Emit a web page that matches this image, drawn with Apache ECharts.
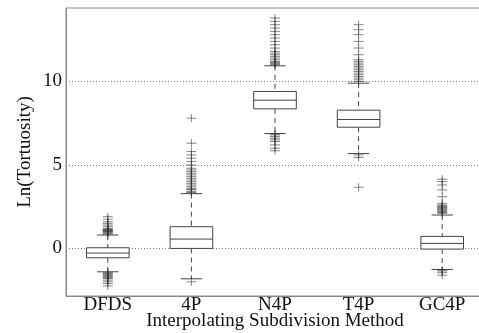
<!DOCTYPE html>
<html>
<head>
<meta charset="utf-8">
<script src="https://cdn.jsdelivr.net/npm/echarts@6/dist/echarts.min.js"></script>
<style>
  html, body { margin: 0; padding: 0; background: #fff; }
  #chart { width: 479px; height: 333px; }
</style>
</head>
<body>
<div id="chart"></div>
<script>
var methods = ['DFDS', '4P', 'N4P', 'T4P', 'GC4P'];

// [lower whisker, q1, median, q3, upper whisker]
var boxStats = [
    [-1.4, -0.56, -0.28, 0.04, 0.8],
    [-1.82, 0, 0.56, 1.3, 3.28],
    [6.88, 8.36, 8.88, 9.4, 10.94],
    [5.68, 7.26, 7.72, 8.28, 9.9],
    [-1.26, -0.04, 0.3, 0.72, 2.0]
];

var outliersDFDS = [0.85, 0.9, 0.95, 1.0, 1.02, 1.05, 1.08, 1.1, 1.12, 1.15, 1.2, 1.3, 1.4, 1.5, 1.6, 1.75, 1.9,
    -1.45, -1.5, -1.55, -1.6, -1.65, -1.7, -1.75, -1.8, -1.9, -2.0, -2.1, -2.25];
var outliers4P = [3.35, 3.4, 3.5, 3.55, 3.6, 3.7, 3.8, 3.9, 4.0, 4.1, 4.2, 4.3, 4.4, 4.5, 4.6, 4.7, 4.8, 5.0, 5.2, 5.4, 5.6, 5.8, 6.3, 7.8,
    -2.0];
var outliersN4P = [11.0, 11.05, 11.1, 11.15, 11.2, 11.3, 11.4, 11.5, 11.6, 11.7, 11.8, 12.0, 12.2, 12.4, 12.6, 12.8, 13.0, 13.2, 13.4, 13.6, 13.8,
    6.85, 6.8, 6.7, 6.6, 6.5, 6.4, 6.2, 6.0, 5.85];
var outliersT4P = [10.0, 10.1, 10.2, 10.3, 10.4, 10.5, 10.6, 10.7, 10.8, 10.9, 11.0, 11.1, 11.2, 11.3, 11.6, 12.0, 12.4, 12.8, 13.1, 13.4,
    5.6, 5.45, 3.66];
var outliersGC4P = [2.1, 2.15, 2.2, 2.25, 2.3, 2.35, 2.4, 2.45, 2.5, 2.55, 2.6, 2.7, 3.1, 3.5, 3.8, 4.0, 4.15,
    -1.3, -1.35, -1.45, -1.6];

var outlierLists = [outliersDFDS, outliers4P, outliersN4P, outliersT4P, outliersGC4P];
var outlierData = [];
outlierLists.forEach(function (list, i) {
    list.forEach(function (v) {
        outlierData.push([i, v]);
    });
});

var boxData = boxStats.map(function (s, i) {
    return [i].concat(s);
});

var lineColor = '#444';
var textColor = '#111';
var font = 'Liberation Serif';

var myChart = echarts.init(document.getElementById('chart'));

function renderBox(params, api) {
    var x = api.value(0);
    var pLow = api.coord([x, api.value(1)]);
    var pQ1 = api.coord([x, api.value(2)]);
    var pMed = api.coord([x, api.value(3)]);
    var pQ3 = api.coord([x, api.value(4)]);
    var pHigh = api.coord([x, api.value(5)]);
    var bw = api.size([1, 0])[0] * 0.51;
    var cw = bw * 0.5;
    var cx = pMed[0];
    var solid = { stroke: lineColor, lineWidth: 1, fill: null };
    var dashed = { stroke: lineColor, lineWidth: 1, lineDash: [5, 4], fill: null };
    return {
        type: 'group',
        children: [
            { type: 'line', shape: { x1: cx, y1: pHigh[1], x2: cx, y2: pQ3[1] }, style: dashed },
            { type: 'line', shape: { x1: cx, y1: pQ1[1], x2: cx, y2: pLow[1] }, style: dashed },
            { type: 'line', shape: { x1: cx - cw / 2, y1: pHigh[1], x2: cx + cw / 2, y2: pHigh[1] }, style: solid },
            { type: 'line', shape: { x1: cx - cw / 2, y1: pLow[1], x2: cx + cw / 2, y2: pLow[1] }, style: solid },
            { type: 'rect', shape: { x: cx - bw / 2, y: pQ3[1], width: bw, height: pQ1[1] - pQ3[1] },
              style: { stroke: lineColor, lineWidth: 1, fill: '#fff' } },
            { type: 'line', shape: { x1: cx - bw / 2, y1: pMed[1], x2: cx + bw / 2, y2: pMed[1] }, style: solid }
        ]
    };
}

function renderPlus(params, api) {
    var p = api.coord([api.value(0), api.value(1)]);
    var st = { stroke: '#333', lineWidth: 1, opacity: 0.6 };
    return {
        type: 'group',
        children: [
            { type: 'line', shape: { x1: p[0] - 5, y1: p[1], x2: p[0] + 5, y2: p[1] }, style: st },
            { type: 'line', shape: { x1: p[0], y1: p[1] - 4, x2: p[0], y2: p[1] + 4 }, style: st }
        ]
    };
}

var option = {
    backgroundColor: '#fff',
    animation: false,
    grid: {
        left: 66,
        top: 8,
        right: -5,
        bottom: 37,
        outerBoundsMode: 'none',
        containLabel: false,
        show: true,
        borderColor: '#888',
        borderWidth: 1
    },
    xAxis: {
        type: 'category',
        data: methods,
        boundaryGap: true,
        name: 'Interpolating Subdivision Method',
        nameLocation: 'middle',
        nameMoveOverlap: false,
        nameGap: 16,
        nameTextStyle: { fontFamily: font, fontSize: 19, color: textColor, verticalAlign: 'top' },
        axisLine: { onZero: false, lineStyle: { color: '#888' } },
        axisTick: { show: false },
        axisLabel: { fontFamily: font, fontSize: 19, color: textColor, margin: 0 },
        splitLine: { show: false }
    },
    yAxis: {
        type: 'value',
        min: -2.85,
        max: 14.4,
        splitNumber: 3,
        name: 'Ln(Tortuosity)',
        nameLocation: 'middle',
        nameMoveOverlap: false,
        nameGap: 41,
        nameTextStyle: { fontFamily: font, fontSize: 19, color: textColor, verticalAlign: 'middle' },
        axisLine: { show: true, lineStyle: { color: '#888' } },
        axisTick: { show: false },
        axisLabel: { fontFamily: font, fontSize: 19, color: textColor, margin: 4, showMinLabel: false, showMaxLabel: false },
        splitLine: { show: true, showMinLine: false, showMaxLine: false, lineStyle: { color: '#777', type: [1, 2], width: 1 } }
    },
    series: [
        {
            type: 'custom',
            name: 'box',
            renderItem: renderBox,
            encode: { x: 0, y: [1, 2, 3, 4, 5] },
            data: boxData,
            z: 2
        },
        {
            type: 'custom',
            name: 'outliers',
            renderItem: renderPlus,
            encode: { x: 0, y: 1 },
            data: outlierData,
            z: 3
        }
    ]
};
myChart.setOption(option);
</script>
</body>
</html>
